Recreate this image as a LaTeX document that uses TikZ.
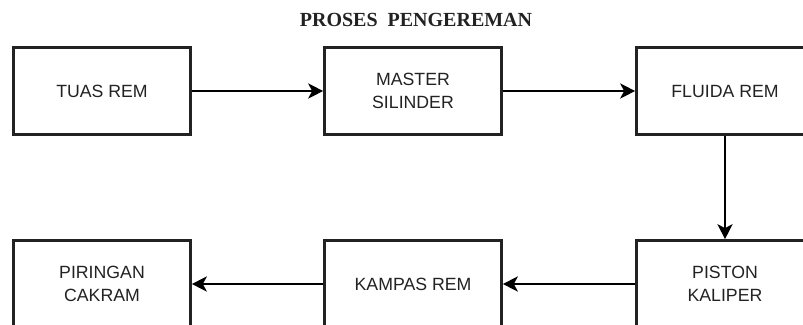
\documentclass[tikz,border=0pt]{standalone}
\usepackage{fontspec}
\setmainfont{Liberation Sans}
\newfontfamily\titlefont{Liberation Serif}
\usetikzlibrary{arrows.meta}
\definecolor{ink}{HTML}{222222}
\tikzset{
  blockbox/.style={draw=ink, line width=2.6pt, fill=white, minimum width=177pt,
    minimum height=87pt, inner sep=0pt, align=center, text=ink,
    font=\fontsize{17.7}{23.3}\selectfont},
  flow/.style={draw=black, line width=2.4pt,
    -{Stealth[length=15pt, width=15pt, inset=4pt]}}
}
\begin{document}
\begin{tikzpicture}[x=1pt, y=-1pt]
  \useasboundingbox (0,0) rectangle (803,324);
  \clip (0,0) rectangle (803,324);
  \node[font=\titlefont\bfseries\fontsize{20}{24}\selectfont, text=ink] (title) at (416,20)
    {PROSES\hspace{0.5em}PENGEREMAN};
  % top row
  \node[blockbox] (tuas) at (102,91) {TUAS REM};
  \node[blockbox] (master) at (413,91) {MASTER\\SILINDER};
  \node[blockbox] (fluida) at (725,91) {FLUIDA REM};
  % bottom row
  \node[blockbox] (piringan) at (102,284) {PIRINGAN\\CAKRAM};
  \node[blockbox] (kampas) at (413,284) {KAMPAS REM};
  \node[blockbox] (piston) at (725,284) {PISTON\\KALIPER};
  % connectors
  \draw[flow] (tuas) -- (master);
  \draw[flow] (master) -- (fluida);
  \draw[flow] (fluida) -- (piston);
  \draw[flow] (piston) -- (kampas);
  \draw[flow] (kampas) -- (piringan);
\end{tikzpicture}
\end{document}
